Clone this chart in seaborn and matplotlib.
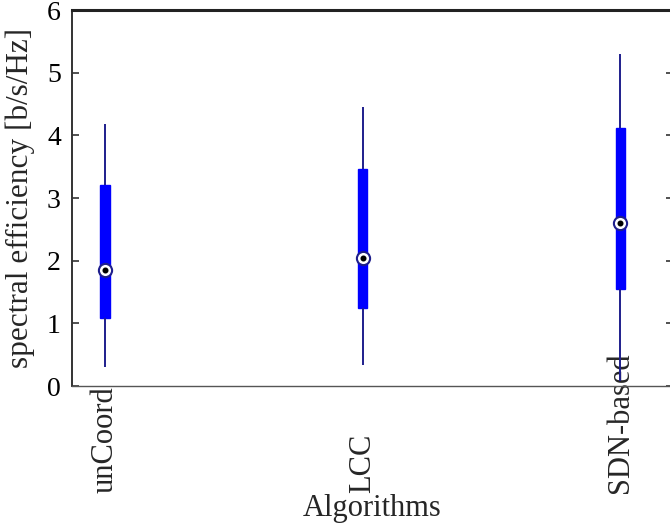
import numpy as np
import pandas as pd
import matplotlib
matplotlib.use("Agg")
import matplotlib.pyplot as plt
import seaborn as sns

# ---- data ----
algorithms = ["unCoord", "LCC", "SDN-based"]
whisker_low = [0.31, 0.34, 0.08]
q1 = [1.09, 1.25, 1.54]
median = [1.85, 2.05, 2.60]
q3 = [3.21, 3.46, 4.11]
whisker_high = [4.18, 4.45, 5.30]
y_ticks = [0, 1, 2, 3, 4, 5, 6]

rows = []
for i, a in enumerate(algorithms):
    for v in (whisker_low[i], q1[i], median[i], q3[i], whisker_high[i]):
        rows.append({"Algorithms": a, "value": v})
df = pd.DataFrame(rows)

sns.set_style("ticks")
plt.rcParams["font.family"] = ["Liberation Serif", "DejaVu Serif"]

fig = plt.figure(figsize=(6.7, 5.26), dpi=100)
ax = fig.add_axes([72 / 670, 1 - 386 / 526, 601 / 670, 376 / 526])

navy = "#1e1e8c"
blue = "#0000ff"

sns.boxplot(
    data=df, x="Algorithms", y="value", order=algorithms, ax=ax,
    whis=(0, 100), width=0.036, showcaps=False, showfliers=False,
    color=blue, linecolor=blue, linewidth=1.0, saturation=1,
    whiskerprops=dict(color=navy, linewidth=1.4),
    medianprops=dict(linewidth=0, color=blue),
)

# median markers
sns.pointplot(x=algorithms, y=median, order=algorithms, ax=ax, errorbar=None,
              linestyle="none", marker="o", markersize=9.5,
              markerfacecolor="white", markeredgecolor=navy,
              markeredgewidth=1.5, color=navy, zorder=5)
sns.pointplot(x=algorithms, y=median, order=algorithms, ax=ax, errorbar=None,
              linestyle="none", marker="o", markersize=2.3,
              markerfacecolor="black", markeredgecolor="black",
              color="black", zorder=6)

ax.set_xlim(-0.128, 2.205)
ax.set_ylim(0, 6)
ax.set_yticks(y_ticks)
ax.set_yticklabels([str(t) for t in y_ticks], fontsize=20)

ax.set_xticks(range(len(algorithms)))
ax.set_xticklabels(algorithms, rotation=90, fontsize=22, va="bottom", ha="center")
ax.tick_params(axis="x", length=0, pad=77)
ax.tick_params(axis="y", which="both", direction="in", length=5, width=1.2, pad=8,
               colors="#333333", labelcolor="black")
ax.tick_params(axis="y", right=True)
for t in ax.yaxis.get_ticklines()[1::2]:
    t.set_color("#d8d8d8")

ax.set_xlabel("Algorithms", fontsize=22, labelpad=1)
ax.set_ylabel("spectral efficiency [b/s/Hz]", fontsize=22.5, labelpad=9)

ax.spines["left"].set_color("#333333")
ax.spines["left"].set_linewidth(1.4)
ax.spines["bottom"].set_color("#555555")
ax.spines["bottom"].set_linewidth(1.0)
ax.spines["top"].set_visible(True)
ax.spines["top"].set_color("#222222")
ax.spines["top"].set_linewidth(2.2)
ax.spines["right"].set_visible(True)
ax.spines["right"].set_color("#dddddd")

fig.savefig("out.png", dpi=100)
